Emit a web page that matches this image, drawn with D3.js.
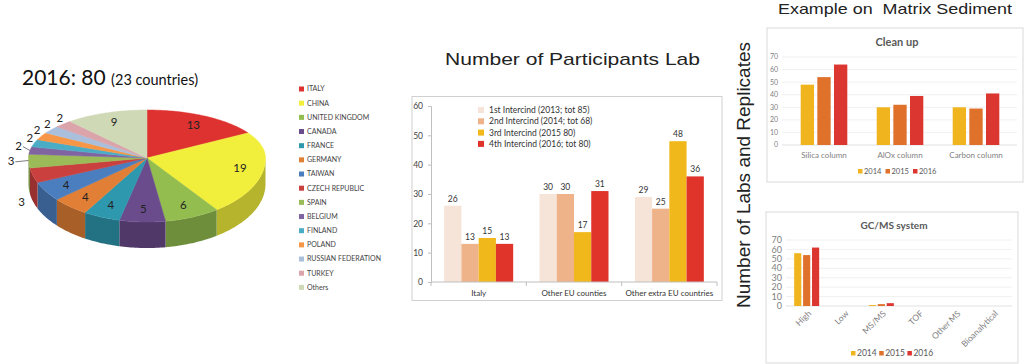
<!DOCTYPE html>
<html><head><meta charset="utf-8">
<script src="https://cdn.jsdelivr.net/npm/d3@7"></script>
<style>body{margin:0;background:#fff}svg{display:block}</style>
</head><body>
<svg id="chart" width="1024" height="364"></svg>
<script>
// --- pie: participants 2016 per country
const countries = ["ITALY","CHINA","UNITED KINGDOM","CANADA","FRANCE","GERMANY","TAIWAN","CZECH REPUBLIC","SPAIN","BELGIUM","FINLAND","POLAND","RUSSIAN FEDERATION","TURKEY","Others"];
const countryCounts = [13,19,6,5,4,4,4,3,3,2,2,2,2,2,9];
const countryColors = ["#de3230","#f2ee3c","#93bd4f","#6a4c8c","#2e98ae","#e07f35","#4a7ebf","#c9403e","#9bbb59","#8064a2","#4bacc6","#f79646","#a9bfdc","#dba3aa","#cfd9b6"];

// --- grouped bars: participants per intercomparison
const groups = ["Italy","Other EU counties","Other extra EU countries"];
const intercinds = ["1st Intercind (2013; tot 85)","2nd Intercind (2014; tot 68)","3rd Intercind (2015 80)","4th Intercind (2016; tot 80)"];
const intercindColors = ["#f6e4d8","#efb38a","#f1b81c","#e0332a"];
const participants = [[26,13,15,13],[30,30,17,31],[29,25,48,36]];
const participantTicks = [0,10,20,30,40,50,60];

// --- matrix sediment charts
const years = ["2014","2015","2016"];
const yearColors = ["#f0b41e","#e0712a","#dc3631"];
const cleanupCats = ["Silica column","AlOx column","Carbon column"];
const cleanupValues = [[48,54,64],[30,32,39],[30,29,41]];
const gcmsCats = ["High","Low","MS/MS","TOF","Other MS","Bioanalytical"];
const gcmsValues = [[56,54,62],[0,0,0],[1,2,3],[0,0,0],[0,0,0],[0,0,0]];
const sedimentTicks = [0,10,20,30,40,50,60,70];

const svg = d3.select("#chart");
const calibri = "Lato, 'Open Sans', sans-serif";
const arial = "'Liberation Sans', Arial, sans-serif";

// ================= PIE =================
svg.append("text").attr("x", 22).attr("y", 85)
  .style("font-family", calibri).style("font-size", "21px").attr("fill", "#111")
  .text("2016: 80 ")
  .append("tspan").style("font-size", "14.5px").text("(23 countries)");

const pcx = 147, pcy = 158, prx = 118.5, ryBack = 48, ryFront = 64, depth = 26;
function pt(a, k) {
  const c = Math.cos(a);
  return [pcx + prx * k * Math.sin(a), pcy - k * (c > 0 ? ryBack : ryFront) * c];
}
function arcPts(a0, a1, dy) {
  const n = Math.max(2, Math.ceil((a1 - a0) / 0.02));
  return d3.range(n + 1).map(i => {
    const p = pt(a0 + (a1 - a0) * i / n, 1);
    return [p[0], p[1] + dy];
  });
}
const arcs = d3.pie().sort(null)(countryCounts);
const gPie = svg.append("g");

// side walls (front half only)
arcs.forEach((d, i) => {
  const a0 = Math.max(d.startAngle, Math.PI / 2), a1 = Math.min(d.endAngle, 3 * Math.PI / 2);
  if (a1 <= a0) return;
  const top = arcPts(a0, a1, 0), bot = arcPts(a0, a1, depth).reverse();
  gPie.append("path")
    .attr("d", d3.line()(top.concat(bot)) + "Z")
    .attr("fill", d3.color(countryColors[i]).darker(0.8));
});
// top surfaces
arcs.forEach((d, i) => {
  const pts = [[pcx, pcy]].concat(arcPts(d.startAngle, d.endAngle, 0));
  gPie.append("path")
    .attr("d", d3.line()(pts) + "Z")
    .attr("fill", countryColors[i])
    .attr("stroke", countryColors[i]).attr("stroke-width", 0.5);
});
// labels
arcs.forEach((d, i) => {
  const a = (d.startAngle + d.endAngle) / 2;
  const c = Math.cos(a);
  let p, anchor = "middle";
  if (d.value >= 4) {
    p = pt(a, 0.8);
  } else if (Math.abs(c) < 0.2) {
    // close to the left edge: label with a short leader line
    p = pt(a, 1.12);
    anchor = "end";
    if (c > 0) { p[0] += 6; p[1] -= 4; }
    const q = pt(a, 1.0);
    gPie.append("line").attr("x1", p[0] + 1).attr("y1", p[1] + 1).attr("x2", q[0]).attr("y2", q[1])
      .attr("stroke", "#444").attr("stroke-width", 0.7);
  } else if (c < 0) {
    p = pt(a, 1.1);
    p[1] += depth * Math.min(1, -3 * c) + 4;
  } else {
    p = pt(a, 1.04);
    p[1] -= 5;
  }
  gPie.append("text").attr("x", p[0]).attr("y", p[1]).attr("dy", "0.35em")
    .attr("text-anchor", anchor)
    .style("font-family", calibri).style("font-size", "11.5px").attr("fill", "#222")
    .text(d.value);
});

// pie legend
const pieLegend = svg.append("g").attr("transform", "translate(299,89)");
countries.forEach((name, i) => {
  const row = pieLegend.append("g").attr("transform", `translate(0,${i * 14.17})`);
  row.append("rect").attr("x", 0).attr("y", -2.5).attr("width", 5).attr("height", 5).attr("fill", countryColors[i]);
  row.append("text").attr("x", 8).attr("y", 0).attr("dy", "0.35em")
    .style("font-family", calibri).style("font-size", "7px").attr("fill", "#444").text(name);
});

// ================= GROUPED BARS =================
svg.append("text").attr("x", 572.5).attr("y", 65).attr("text-anchor", "middle")
  .attr("textLength", 255).attr("lengthAdjust", "spacingAndGlyphs")
  .style("font-family", arial).style("font-size", "17px").attr("fill", "#222")
  .text("Number of Participants Lab");
svg.append("rect").attr("x", 412).attr("y", 96.5).attr("width", 310).attr("height", 204)
  .attr("fill", "#fff").attr("stroke", "#d0d0d0");

const x0 = d3.scaleBand().domain(groups).range([431, 717]);
const x1 = d3.scaleBand().domain(intercinds).range([0, 69]);
const y0 = d3.scaleLinear().domain([0, 60]).range([282, 106]);
const gBars = svg.append("g");

groups.forEach((gName, gi) => {
  const off = x0(gName) + (x0.bandwidth() - 69) / 2;
  intercinds.forEach((s, si) => {
    const v = participants[gi][si];
    gBars.append("rect").attr("x", off + x1(s)).attr("y", y0(v))
      .attr("width", x1.bandwidth()).attr("height", y0(0) - y0(v))
      .attr("fill", intercindColors[si]);
    gBars.append("text").attr("x", off + x1(s) + x1.bandwidth() / 2).attr("y", y0(v) - 4)
      .attr("text-anchor", "middle")
      .style("font-family", calibri).style("font-size", "8.5px").attr("fill", "#333").text(v);
  });
});
const yAxis0 = svg.append("g").attr("transform", "translate(431,0)")
  .call(d3.axisLeft(y0).tickValues(participantTicks).tickSize(3).tickPadding(5));
yAxis0.select(".domain").attr("stroke", "#bfbfbf");
yAxis0.selectAll(".tick line").attr("stroke", "#bfbfbf");
yAxis0.selectAll("text").style("font-family", calibri).style("font-size", "8.5px").attr("fill", "#444");

svg.append("line").attr("x1", 431).attr("x2", 717).attr("y1", 282).attr("y2", 282).attr("stroke", "#bfbfbf");
groups.concat([null]).forEach(gName => {
  const xx = gName ? x0(gName) : x0.range()[1];
  svg.append("line").attr("x1", xx).attr("x2", xx).attr("y1", 282).attr("y2", 286).attr("stroke", "#bfbfbf");
});
groups.forEach(gName => {
  svg.append("text").attr("x", x0(gName) + x0.bandwidth() / 2).attr("y", 296).attr("text-anchor", "middle")
    .style("font-family", calibri).style("font-size", "8px").attr("fill", "#333").text(gName);
});
const midLegend = svg.append("g").attr("transform", "translate(478,110)");
intercinds.forEach((s, i) => {
  const row = midLegend.append("g").attr("transform", `translate(0,${i * 11.3})`);
  row.append("rect").attr("x", 0).attr("y", -3).attr("width", 6).attr("height", 6).attr("fill", intercindColors[i]);
  row.append("text").attr("x", 11).attr("y", 0).attr("dy", "0.35em")
    .style("font-family", calibri).style("font-size", "8.5px").attr("fill", "#333").text(s);
});

// ================= MATRIX SEDIMENT =================
svg.append("text").attr("x", 895).attr("y", 14).attr("text-anchor", "middle")
  .attr("textLength", 234).attr("lengthAdjust", "spacingAndGlyphs")
  .style("white-space", "pre")
  .style("font-family", arial).style("font-size", "15px").attr("fill", "#222")
  .text("Example on  Matrix Sediment");
svg.append("text").attr("transform", "translate(750,175) rotate(-90)").attr("text-anchor", "middle")
  .attr("textLength", 266).attr("lengthAdjust", "spacingAndGlyphs")
  .style("font-family", arial).style("font-size", "18px").attr("fill", "#222")
  .text("Number of Labs and Replicates");

function smallChart(o) {
  const g = svg.append("g");
  g.append("rect").attr("x", o.box[0]).attr("y", o.box[1]).attr("width", o.box[2]).attr("height", o.box[3])
    .attr("fill", "#fff").attr("stroke", "#d9d9d9");
  g.append("text").attr("x", o.box[0] + o.box[2] / 2 + 2).attr("y", o.titleY).attr("text-anchor", "middle")
    .style("font-family", calibri).style("font-size", o.titleSize).style("font-weight", "bold")
    .attr("fill", "#595959").text(o.title);
  const x = d3.scaleBand().domain(o.cats).range(o.xr);
  const y = d3.scaleLinear().domain([0, 70]).range(o.yr);
  const xi = d3.scaleBand().domain(years).range([0, o.gw]).paddingInner(0.2);
  sedimentTicks.forEach(t => {
    g.append("line").attr("x1", o.gx[0]).attr("x2", o.gx[1]).attr("y1", y(t)).attr("y2", y(t))
      .attr("stroke", t === 0 ? "#d9d9d9" : "#ececec").attr("stroke-width", 0.8);
    g.append("text").attr("x", o.gx[0] - 4).attr("y", y(t)).attr("dy", "0.35em").attr("text-anchor", "end")
      .style("font-family", calibri).style("font-size", o.tickSize).attr("fill", "#7f7f7f").text(t);
  });
  o.cats.forEach((c, ci) => {
    const off = x(c) + (x.bandwidth() - o.gw) / 2;
    years.forEach((yr, yi) => {
      const v = o.values[ci][yi];
      g.append("rect").attr("x", off + xi(yr)).attr("y", y(v))
        .attr("width", xi.bandwidth()).attr("height", y(0) - y(v)).attr("fill", yearColors[yi]);
    });
    const cx = x(c) + x.bandwidth() / 2;
    if (o.rotate) {
      g.append("text").attr("transform", `translate(${cx + 3},${y(0) + 6}) rotate(-45)`)
        .attr("text-anchor", "end").attr("dy", "0.35em")
        .style("font-family", calibri).style("font-size", o.catSize).attr("fill", "#7f7f7f").text(c);
    } else {
      g.append("text").attr("x", cx).attr("y", y(0) + 13).attr("text-anchor", "middle")
        .style("font-family", calibri).style("font-size", o.catSize).attr("fill", "#7f7f7f").text(c);
    }
  });
  years.forEach((yr, yi) => {
    const lx = o.legX + yi * o.legStep;
    g.append("rect").attr("x", lx).attr("y", o.legY - 2).attr("width", 4.5).attr("height", 4.5).attr("fill", yearColors[yi]);
    g.append("text").attr("x", lx + 6).attr("y", o.legY).attr("dy", "0.35em")
      .style("font-family", calibri).style("font-size", o.legSize).attr("fill", "#595959").text(yr);
  });
}

smallChart({
  box: [767, 28, 256, 154], title: "Clean up", titleY: 46, titleSize: "11px",
  cats: cleanupCats, values: cleanupValues,
  xr: [786, 1014], yr: [145, 57], gx: [782, 1017], gw: 46.6,
  tickSize: "7px", catSize: "8px", legSize: "7.5px", rotate: false,
  legX: 858, legStep: 27.5, legY: 171
});
smallChart({
  box: [766, 212, 252, 151], title: "GC/MS system", titleY: 229, titleSize: "10px",
  cats: gcmsCats, values: gcmsValues,
  xr: [788, 1012], yr: [306, 240], gx: [786, 1012], gw: 25,
  tickSize: "9px", catSize: "8.5px", legSize: "8.5px", rotate: true,
  legX: 851, legStep: 28.2, legY: 353
});
</script>
</body></html>
